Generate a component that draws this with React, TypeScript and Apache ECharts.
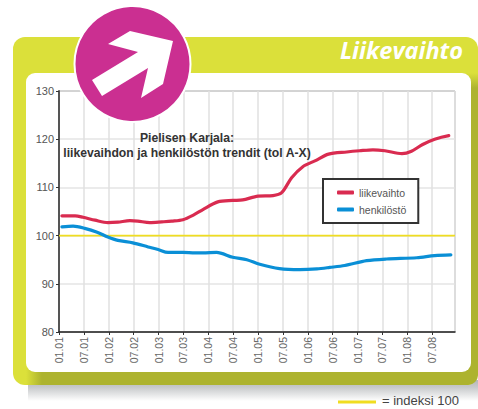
import React, { useEffect, useRef } from "react";
import * as echarts from "echarts";

const tickLabels = ["01.01","07.01","01.02","07.02","01.03","07.03","01.04","07.04","01.05","07.05","01.06","07.06","01.07","07.07","01.08","07.08"];
const redMonths = [0.7,3.9,5.8,8.7,11.8,14.2,17.1,19,21.9,24.8,27.2,29.9,32.5,34.7,38.3,41.9,44.3,48,51.6,53.7,56.1,58.8,61.7,65,69.4,72.5,75.7,78.6,82.7,85,87.7,90.6,94];
const redValues = [104.1,104.1,103.8,103.2,102.7,102.8,103.1,103,102.7,102.85,103,103.3,104.3,105.4,107,107.3,107.4,108.2,108.3,108.9,112,114.3,115.5,116.9,117.35,117.6,117.8,117.6,117,117.5,118.9,120,120.75];
const blueMonths = [0.7,3.4,6.2,9.2,11.8,14.2,17.8,21.5,23.9,26.3,29.9,32.8,34.7,38,41.9,45.3,48.4,53.2,58.1,62.2,65.3,68.9,74.2,79,86.3,90.6,94.5];
const blueValues = [101.8,101.95,101.5,100.7,99.7,99,98.5,97.65,97.1,96.5,96.5,96.4,96.4,96.5,95.5,95,94.05,93.15,92.95,93.1,93.4,93.8,94.8,95.15,95.4,95.85,96];
const indexMonths = [0, 95.5];
const indexValues = [100, 100];

const FONT = "'Liberation Sans', sans-serif";
const LIME = "#dbe03a";
const OLIVE = "#adb32f";
const zip = (a: number[], b: number[]) => a.map((v, i) => [v, b[i]]);

export default function App() {
  const ref = useRef<HTMLDivElement>(null);
  useEffect(() => {
    const chart = echarts.init(ref.current!, undefined, { renderer: "svg" });
    chart.setOption({
      animation: false,
      title: {
        text: "Pielisen Karjala:\nliikevaihdon ja henkilöstön trendit (tol A-X)",
        left: 182,
        top: 125,
        textAlign: "center",
        textStyle: { fontFamily: FONT, fontWeight: "bold", fontSize: 12.2, lineHeight: 15, color: "#333" },
      },
      legend: {
        data: ["liikevaihto", "henkilöstö"],
        orient: "vertical",
        left: 323,
        top: 179,
        padding: [8, 12, 8, 14],
        itemGap: 6,
        itemWidth: 17,
        itemHeight: 4,
        icon: "roundRect",
        borderColor: "#333",
        borderWidth: 2,
        backgroundColor: "#fff",
        textStyle: { fontFamily: FONT, fontSize: 10.5, color: "#555" },
      },
      grid: { left: 59, right: 23, top: 91, height: 241, show: true, borderColor: "#a8a8a8", borderWidth: 1 },
      xAxis: {
        type: "value",
        min: 0,
        max: 95.5,
        interval: 6,
        axisLine: { show: true, onZero: false, lineStyle: { color: "#222", width: 1.5 } },
        axisTick: { show: true, length: 3, lineStyle: { color: "#333" } },
        axisLabel: {
          rotate: 90,
          margin: 5,
          fontFamily: FONT,
          fontSize: 10.5,
          color: "#666",
          showMaxLabel: false,
          formatter: (v: number) => tickLabels[v / 6] ?? "",
        },
        splitLine: { show: true, showMinLine: false, lineStyle: { color: "#e0e0e0", width: 1.5 } },
      },
      yAxis: {
        type: "value",
        min: 80,
        max: 130,
        interval: 10,
        axisLine: { show: true, lineStyle: { color: "#555", width: 2 } },
        axisTick: { show: true, length: 3, lineStyle: { color: "#333" } },
        axisLabel: { margin: 5, fontFamily: FONT, fontSize: 11, color: "#555" },
        splitLine: { show: true, showMinLine: false, showMaxLine: false, lineStyle: { color: "#e4e4e4", width: 1.5 } },
      },
      series: [
        { name: "indeksi 100", type: "line", data: zip(indexMonths, indexValues), showSymbol: false, lineStyle: { color: "#f0dd20", width: 1.8 }, itemStyle: { color: "#f0dd20" }, z: 2 },
        { name: "liikevaihto", type: "line", smooth: 0.3, data: zip(redMonths, redValues), showSymbol: false, lineStyle: { color: "#d92b50", width: 3.2, cap: "round" }, itemStyle: { color: "#d92b50" }, z: 3 },
        { name: "henkilöstö", type: "line", smooth: 0.3, data: zip(blueMonths, blueValues), showSymbol: false, lineStyle: { color: "#0a8fd6", width: 3.2, cap: "round" }, itemStyle: { color: "#0a8fd6" }, z: 3 },
      ],
      graphic: [
        { type: "rect", z: -20, shape: { x: 28, y: 380, width: 450, height: 21 }, style: { fill: { type: "linear", x: 0, y: 0, x2: 0, y2: 1, colorStops: [{ offset: 0, color: "#b4b6b8" }, { offset: 0.35, color: "#c8cacc" }, { offset: 1, color: "#ffffff" }] } } },
        { type: "rect", z: -19, shape: { x: 13, y: 37, width: 465, height: 348, r: 12 }, style: { fill: LIME } },
        { type: "rect", z: -18, shape: { x: 26, y: 368, width: 452, height: 17, r: [0, 0, 10, 0] }, style: { fill: { type: "linear", x: 0, y: 0, x2: 1, y2: 0, colorStops: [{ offset: 0, color: LIME }, { offset: 0.035, color: OLIVE }, { offset: 1, color: OLIVE }] } } },
        { type: "rect", z: -18, shape: { x: 462, y: 73, width: 16, height: 300 }, style: { fill: { type: "linear", x: 0, y: 0, x2: 0, y2: 1, colorStops: [{ offset: 0, color: LIME }, { offset: 0.05, color: OLIVE }, { offset: 1, color: OLIVE }] } } },
        { type: "rect", z: -17, shape: { x: 26, y: 73, width: 445, height: 299, r: 9 }, style: { fill: "#fff" } },
        { type: "circle", z: 20, shape: { cx: 132.5, cy: 64, r: 58 }, style: { fill: "#cb2f91", stroke: "#fff", lineWidth: 2 } },
        { type: "polygon", z: 21, shape: { points: [[130, 31], [173, 41], [163, 84], [141, 98], [148, 68], [102, 96], [92, 80], [138, 52], [108, 44]] }, style: { fill: "#fff" } },
        { type: "text", z: 21, x: 463, y: 38, style: { text: "Liikevaihto", fill: "#fff", font: "italic bold 23.5px 'Open Sans', sans-serif", textAlign: "right" } },
        { type: "line", z: 5, shape: { x1: 338, y1: 402, x2: 376, y2: 402 }, style: { stroke: "#f0dd20", lineWidth: 3 } },
        { type: "text", z: 5, x: 382, y: 394, style: { text: "= indeksi 100", fill: "#444", font: `13px ${FONT}` } },
      ],
    });
    return () => chart.dispose();
  }, []);
  return <div ref={ref} style={{ position: "absolute", left: 0, top: 0, width: 478, height: 409 }} />;
}
